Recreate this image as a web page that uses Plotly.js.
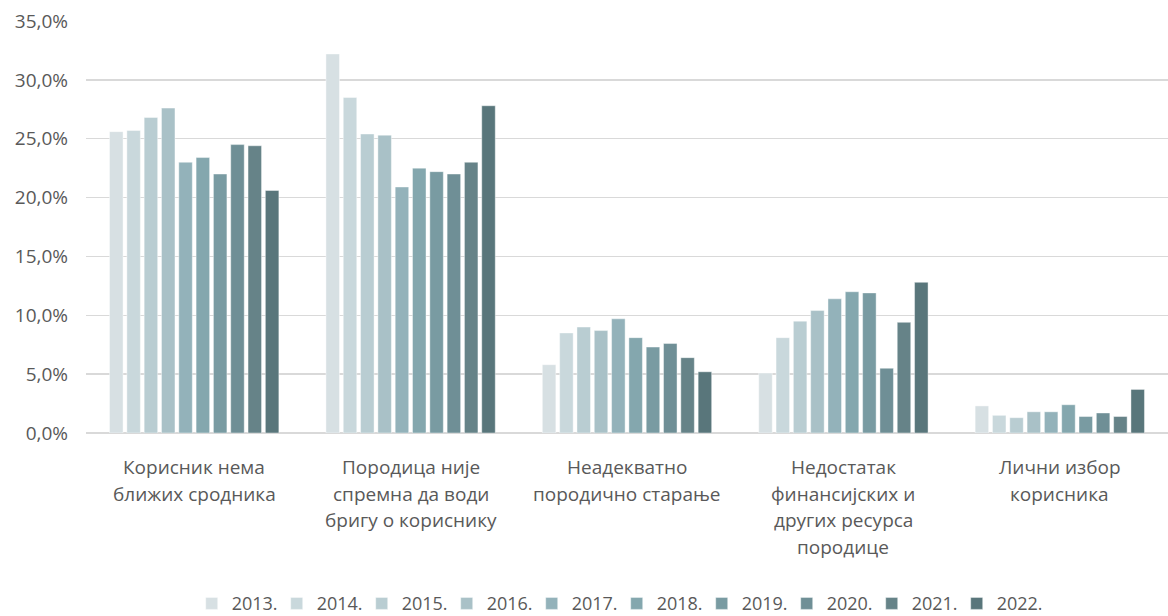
<!DOCTYPE html>
<html>
<head>
<meta charset="utf-8">
<script src="https://cdn.plot.ly/plotly-3.0.1.min.js"></script>
<style>html,body{margin:0;padding:0;background:#fff;}#chart{width:1168px;height:616px;}</style>
</head>
<body>
<div id="chart"></div>
<script>
var categories = [
  "Корисник нема\nближих сродника",
  "Породица није\nспремна да води\nбригу о кориснику",
  "Неадекватно\nпородично старање",
  "Недостатак\nфинансијских и\nдругих ресурса\nпородице",
  "Лични избор\nкорисника"
];
var years = ["2013.", "2014.", "2015.", "2016.", "2017.", "2018.", "2019.", "2020.", "2021.", "2022."];
var v2013 = [25.6, 32.2, 5.8, 5.1, 2.3];
var v2014 = [25.7, 28.5, 8.5, 8.1, 1.5];
var v2015 = [26.8, 25.4, 9.0, 9.5, 1.3];
var v2016 = [27.6, 25.3, 8.7, 10.4, 1.8];
var v2017 = [23.0, 20.9, 9.7, 11.4, 1.8];
var v2018 = [23.4, 22.5, 8.1, 12.0, 2.4];
var v2019 = [22.0, 22.2, 7.3, 11.9, 1.4];
var v2020 = [24.5, 22.0, 7.6, 5.5, 1.7];
var v2021 = [24.4, 23.0, 6.4, 9.4, 1.4];
var v2022 = [20.6, 27.8, 5.2, 12.8, 3.7];
var colors = ["#d7e0e3", "#c9d8dc", "#b9cdd2", "#a9c1c7", "#93b2ba", "#84a7ae", "#799ba2", "#6f8f96", "#668388", "#59767b"];
var tickVals = [0, 5, 10, 15, 20, 25, 30, 35];
var tickText = ["0,0%", "5,0%", "10,0%", "15,0%", "20,0%", "25,0%", "30,0%", "35,0%"];

var FONT = "Open Sans, Noto Sans, sans-serif";
var series = [v2013, v2014, v2015, v2016, v2017, v2018, v2019, v2020, v2021, v2022];
var catIds = categories.map(function(c, i){ return "c" + i; });

var traces = series.map(function(vals, i){
  return {
    type: "bar",
    name: years[i],
    x: catIds,
    y: vals,
    marker: {color: colors[i], line: {width: 0.6, color: "rgba(255,255,255,0.7)"}},
    hoverinfo: "y+name"
  };
});

var annotations = [];
categories.forEach(function(c, ci){
  c.split("\n").forEach(function(line, li){
    annotations.push({
      x: catIds[ci], y: 0, xref: "x", yref: "y",
      text: line, showarrow: false,
      xanchor: "center", yanchor: "top",
      yshift: -19 - 26.7 * li,
      font: {family: FONT, size: 19, color: "#595959"}
    });
  });
});

var layout = {
  width: 1168, height: 616,
  margin: {l: 86, r: 0, t: 21, b: 183, autoexpand: false},
  paper_bgcolor: "#fff", plot_bgcolor: "#fff",
  barmode: "group",
  bargap: 0.2,
  bargroupgap: 0.22,
  showlegend: true,
  legend: {
    orientation: "h", x: 0.528, xanchor: "center", xref: "container",
    y: 0.02, yanchor: "middle", yref: "container",
    font: {family: FONT, size: 18, color: "#595959"},
    entrywidth: 40, entrywidthmode: "pixels", itemclick: false,
    tracegroupgap: 0
  },
  xaxis: {
    showticklabels: false, showgrid: false, zeroline: false, showline: false,
    ticks: ""
  },
  yaxis: {
    range: [0, 35], tickvals: tickVals, ticktext: tickText,
    showgrid: true, gridcolor: "#d9d9d9", gridwidth: 1.4,
    zeroline: true, zerolinecolor: "#d9d9d9", zerolinewidth: 1.4,
    showline: false, ticks: "", ticklen: 0, ticklabelstandoff: 17,
    tickfont: {family: FONT, size: 19, color: "#595959"}
  },
  annotations: annotations
};

Plotly.newPlot("chart", traces, layout, {displayModeBar: false, staticPlot: true});
</script>
</body>
</html>
